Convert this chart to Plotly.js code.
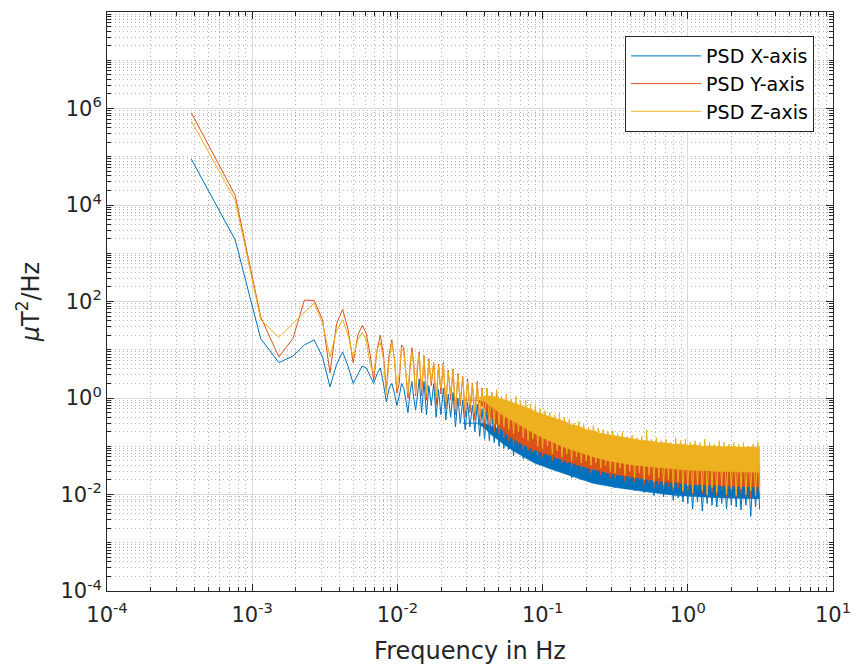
<!DOCTYPE html>
<html><head><meta charset="utf-8">
<script src="https://cdn.plot.ly/plotly-3.0.1.min.js"></script>
<style>html,body{margin:0;padding:0;background:#fff;}#chart{width:854px;height:668px;}</style>
</head><body><div id="chart"></div>
<script>
// Frequencies (Hz): first the resolved low-frequency bins, then the dense band
const freq = [
0.000381,0.000763,0.001144,0.001526,0.001907,0.002289,0.002670,0.003052,0.003433,0.003815,
0.004196,0.004578,0.004959,0.005341,0.005722,0.006104,0.006485,0.006867,0.007248,0.007630,
0.008011,0.008392,0.008774,0.009155,0.009537,0.009918,0.010300,0.010681,0.011063,0.011444,
0.011826,0.012207,0.012589,0.012970,0.013351,0.013733,
0.01413,0.01468,0.01525,0.01585,0.01647,0.01711,0.01778,0.01848,0.01920,0.01995,
0.02073,0.02154,0.02239,0.02326,0.02417,0.02512,0.02610,0.02712,0.02818,0.02929,
0.03043,0.03162,0.03286,0.03415,0.03548,0.03687,0.03831,0.03981,0.04137,0.04299,
0.04467,0.04642,0.04823,0.05012,0.05208,0.05412,0.05623,0.05843,0.06072,0.06310,
0.06557,0.06813,0.07079,0.07356,0.07644,0.07943,0.08254,0.08577,0.08913,0.09261,
0.09624,
0.1000,0.1039,0.1080,0.1122,0.1166,0.1212,0.1259,0.1308,0.1359,0.1413,
0.1468,0.1525,0.1585,0.1647,0.1711,0.1778,0.1848,0.1920,0.1995,0.2073,
0.2154,0.2239,0.2326,0.2417,0.2512,0.2610,0.2712,0.2818,0.2929,0.3043,
0.3162,0.3286,0.3415,0.3548,0.3687,0.3831,0.3981,0.4137,0.4299,0.4467,
0.4642,0.4823,0.5012,0.5208,0.5412,0.5623,0.5843,0.6072,0.6310,0.6557,
0.6813,0.7079,0.7356,0.7644,0.7943,0.8254,0.8577,0.8913,0.9261,0.9624,
1.000,1.039,1.080,1.122,1.166,1.212,1.259,1.308,1.359,1.413,
1.468,1.525,1.585,1.647,1.711,1.778,1.848,1.920,1.995,2.073,
2.154,2.239,2.326,2.417,2.512,2.610,2.712,2.818,2.929,3.043,
3.125
];

// PSD X-axis (uT^2/Hz)
const psdX = [
8.9e4,1.9e3,17,5.4,7.4,12.6,16,7,1.7,5,
9,4.5,2,3.2,4.6,4.2,2.8,2,3.2,4.2,
2,0.83,1.6,2,1.26,0.7,1.1,2,1.6,0.8,
0.5,1.26,2.2,1,0.56,1.1,
2.5,0.5,2.2,0.45,1.8,0.7,2.0,0.4,1.5,0.45,
1.6,0.35,1.2,0.4,1.3,0.25,1.0,0.3,0.9,0.22,
0.8,0.25,0.7,0.2,0.75,0.16,0.6,0.14,0.55,0.13,
0.5,0.12,0.48,0.1,0.4,0.09,0.38,0.085,0.3,0.063,
0.32,0.07,0.28,0.055,0.26,0.06,0.22,0.05,0.21,0.045,
0.19,0.04,0.18,0.042,0.16,0.034,0.15,0.036,0.14,0.03,
0.12,0.028,0.12,0.022,0.1,0.025,0.1,0.02,0.09,0.022,
0.085,0.018,0.08,0.02,0.075,0.016,0.07,0.018,0.065,0.015,
0.06,0.014,0.058,0.016,0.055,0.013,0.052,0.014,0.05,0.012,
0.048,0.013,0.047,0.011,0.045,0.012,0.043,0.0095,0.042,0.011,
0.04,0.009,0.038,0.01,0.036,0.0075,0.036,0.0085,0.034,0.007,
0.033,0.0065,0.032,0.005,0.03,0.007,0.031,0.0045,0.03,0.0065,
0.029,0.006,0.03,0.0055,0.028,0.0065,0.028,0.005,0.027,0.006,
0.028,0.0055,0.027,0.0048,0.028,0.006,0.027,0.0035,0.026,0.0055,
0.027,0.005
];

// PSD Y-axis
const psdY = [
8.1e5,1.6e4,48,7.1,17,107,105,42,3.3,35,
69,26,5.4,20,32,22,8,2.3,10,20,
8,1.5,8,16,6.3,1.26,2.0,12.6,11,3.5,
1.0,4,11,5,1.1,4,
9,1.1,7.5,0.9,6.5,1.8,5.5,0.7,5,1.2,
5.5,0.6,3.8,0.9,4,0.45,3.2,0.7,2.8,0.4,
2.5,0.5,2.0,0.35,2.2,0.3,1.6,0.25,1.6,0.22,
1.3,0.2,1.3,0.18,0.95,0.15,0.9,0.13,0.7,0.1,
0.75,0.11,0.6,0.085,0.6,0.08,0.5,0.075,0.45,0.065,
0.4,0.06,0.38,0.065,0.33,0.05,0.3,0.055,0.28,0.045,
0.25,0.045,0.22,0.035,0.2,0.04,0.2,0.032,0.17,0.035,
0.16,0.028,0.15,0.032,0.14,0.025,0.13,0.028,0.12,0.022,
0.11,0.022,0.1,0.025,0.11,0.019,0.095,0.021,0.09,0.018,
0.085,0.02,0.09,0.016,0.08,0.018,0.075,0.014,0.08,0.016,
0.07,0.013,0.075,0.015,0.065,0.012,0.07,0.014,0.06,0.011,
0.065,0.012,0.058,0.01,0.06,0.013,0.055,0.0105,0.06,0.0095,
0.055,0.011,0.05,0.0095,0.058,0.012,0.05,0.009,0.052,0.011,
0.05,0.0088,0.055,0.0105,0.05,0.009,0.048,0.0085,0.05,0.0095,
0.052,0.0085
];

// PSD Z-axis
const psdZ = [
5.5e5,1.26e4,42,18,35,60,93,35,7.1,25,
42,20,7,16,23,16,5,3.3,10,14,
6.3,1.15,6.3,14,6.3,1.6,3.2,11,9,3.2,
1.26,5,9,4,1.26,5,
8,1.5,7,1.2,6,2.2,5.5,1.0,4.5,1.6,
5,0.8,3.5,1.2,3.8,0.6,3,0.9,2.8,0.55,
2.2,0.7,1.9,0.5,2.0,0.45,1.5,0.4,1.6,0.35,
1.3,0.3,1.5,0.28,1.1,0.25,1.2,0.22,0.95,0.18,
1.1,0.2,0.85,0.15,0.9,0.13,0.75,0.14,0.7,0.1,
0.6,0.09,0.55,0.1,0.5,0.07,0.45,0.08,0.48,0.06,
0.4,0.07,0.36,0.05,0.3,0.06,0.33,0.045,0.28,0.05,
0.25,0.04,0.27,0.045,0.24,0.035,0.22,0.04,0.2,0.03,
0.21,0.028,0.18,0.035,0.2,0.025,0.16,0.03,0.17,0.022,
0.15,0.028,0.16,0.02,0.22,0.025,0.14,0.018,0.15,0.022,
0.13,0.016,0.14,0.02,0.12,0.014,0.15,0.018,0.13,0.012,
0.14,0.015,0.12,0.011,0.13,0.016,0.12,0.012,0.14,0.01,
0.12,0.014,0.11,0.011,0.13,0.015,0.12,0.01,0.11,0.013,
0.12,0.0095,0.11,0.013,0.12,0.01,0.1,0.012,0.11,0.0095,
0.12,0.011
];

// Dense-core extent of each noisy band (where the trace fills the band solidly)
const bandFreq = [
0.02818,0.03162,0.03548,0.03981,0.04467,0.05012,0.05623,0.06310,0.07079,0.07943,
0.08913,0.1000,0.1122,0.1259,0.1413,0.1585,0.1778,0.1995,0.2239,0.2512,
0.2818,0.3162,0.3548,0.3981,0.4467,0.5012,0.5623,0.6310,0.7079,0.7943,
0.8913,1.000,1.122,1.259,1.413,1.585,1.778,1.995,2.239,2.512,
2.818,3.125
];
const coreXHigh = [
0.3,0.3,0.3,0.3,0.26,0.23,0.2,0.18,0.16,0.14,
0.125,0.11,0.1,0.09,0.08,0.072,0.065,0.058,0.053,0.049,
0.045,0.042,0.039,0.037,0.035,0.033,0.032,0.031,0.03,0.029,
0.028,0.027,0.027,0.026,0.026,0.025,0.025,0.025,0.024,0.024,
0.024,0.024
];
const coreXLow = [
0.3,0.3,0.3,0.24,0.17,0.13,0.1,0.08,0.064,0.053,
0.044,0.039,0.034,0.03,0.027,0.024,0.021,0.019,0.017,0.016,
0.015,0.014,0.013,0.0125,0.012,0.0115,0.011,0.0105,0.01,0.0097,
0.0094,0.0092,0.009,0.0088,0.0087,0.0086,0.0085,0.0084,0.0083,0.0083,
0.0082,0.0082
];
const coreYHigh = [
0.9,0.9,0.9,0.85,0.75,0.62,0.5,0.42,0.36,0.31,
0.27,0.24,0.21,0.19,0.17,0.15,0.135,0.12,0.11,0.1,
0.092,0.085,0.08,0.075,0.07,0.066,0.062,0.06,0.057,0.055,
0.052,0.05,0.048,0.047,0.046,0.045,0.044,0.043,0.042,0.042,
0.041,0.041
];
const coreYLow = [
0.9,0.9,0.9,0.6,0.38,0.25,0.18,0.14,0.115,0.095,
0.082,0.073,0.064,0.057,0.05,0.045,0.04,0.036,0.033,0.03,
0.028,0.026,0.024,0.023,0.022,0.021,0.02,0.019,0.018,0.0175,
0.017,0.0165,0.016,0.016,0.0155,0.0155,0.015,0.015,0.015,0.0145,
0.0145,0.0145
];
const coreZHigh = [
1.0,1.0,1.0,1.1,1.1,1.0,0.9,0.8,0.7,0.62,
0.52,0.46,0.42,0.36,0.33,0.28,0.26,0.22,0.21,0.185,
0.175,0.16,0.155,0.145,0.14,0.13,0.128,0.12,0.118,0.11,
0.112,0.105,0.107,0.1,0.102,0.1,0.098,0.1,0.095,0.097,
0.095,0.095
];
const coreZLow = [
1.0,1.0,1.0,0.85,0.65,0.5,0.4,0.32,0.26,0.22,
0.18,0.15,0.13,0.11,0.095,0.085,0.075,0.068,0.06,0.055,
0.05,0.047,0.044,0.042,0.04,0.038,0.037,0.036,0.035,0.034,
0.033,0.032,0.032,0.031,0.031,0.03,0.03,0.03,0.029,0.029,
0.029,0.029
];

const seriesNames = ['PSD X-axis', 'PSD Y-axis', 'PSD Z-axis'];
const seriesColors = ['#0072BD', '#D95319', '#EDB120'];
const xTickVals = [1e-4, 1e-3, 1e-2, 1e-1, 1, 10];
const xTickText = ['10<sup>-4</sup>', '10<sup>-3</sup>', '10<sup>-2</sup>', '10<sup>-1</sup>', '10<sup>0</sup>', '10<sup>1</sup>'];
const yTickVals = [1e-4, 1e-2, 1, 1e2, 1e4, 1e6, 1e8];
const yTickText = ['10<sup>-4</sup>', '10<sup>-2</sup>', '10<sup>0</sup>', '10<sup>2</sup>', '10<sup>4</sup>', '10<sup>6</sup>', '10<sup>8</sup>'];

function minorVals(n0, n1, skipMajor) {
  const out = [];
  for (let n = n0; n < n1; n++) {
    for (let m = 1; m <= 9; m++) {
      if (m === 1 && skipMajor(n)) continue;
      out.push(m * Math.pow(10, n));
    }
  }
  return out;
}
const xMinor = minorVals(-4, 1, n => true);
const yMinor = minorVals(-4, 8, n => (n % 2 === 0));

const series = [psdX, psdY, psdZ];
const coreHigh = [coreXHigh, coreYHigh, coreZHigh];
const coreLow = [coreXLow, coreYLow, coreZLow];
const traces = [];
series.forEach((vals, i) => {
  traces.push({
    x: bandFreq.concat(bandFreq.slice().reverse()),
    y: coreHigh[i].concat(coreLow[i].slice().reverse()),
    type: 'scatter', mode: 'lines', fill: 'toself', fillcolor: seriesColors[i],
    line: {color: seriesColors[i], width: 0.5},
    showlegend: false, hoverinfo: 'skip'
  });
  traces.push({
    x: freq, y: vals, type: 'scatter', mode: 'lines', name: seriesNames[i],
    line: {color: seriesColors[i], width: 1}
  });
});

const fontFam = 'DejaVu Sans, sans-serif';
const axisCommon = {
  type: 'log', showline: true, linecolor: '#262626', linewidth: 1, mirror: 'ticks',
  ticks: 'inside', ticklen: 7, tickcolor: '#262626', tickmode: 'array',
  showgrid: true, gridcolor: '#dcdcdc', gridwidth: 1, zeroline: false,
  tickfont: {family: fontFam, size: 21, color: '#262626'}
};
const minorCommon = {
  tickmode: 'array', ticks: 'inside', ticklen: 4, tickcolor: '#262626',
  showgrid: true, gridcolor: '#b5b5b5', griddash: '1px,3px', gridwidth: 1
};

const layout = {
  width: 854, height: 668,
  margin: {l: 107, r: 21, t: 12, b: 77},
  paper_bgcolor: '#ffffff', plot_bgcolor: '#ffffff',
  showlegend: true,
  xaxis: Object.assign({}, axisCommon, {
    range: [-4, 1], tickvals: xTickVals, ticktext: xTickText, ticklabelstandoff: 5,
    minor: Object.assign({}, minorCommon, {tickvals: xMinor}),
    title: {text: 'Frequency in Hz', standoff: 15, font: {family: fontFam, size: 24, color: '#262626'}}
  }),
  yaxis: Object.assign({}, axisCommon, {
    range: [-4, 8], tickvals: yTickVals, ticktext: yTickText,
    minor: Object.assign({}, minorCommon, {tickvals: yMinor}),
    title: {text: '<i>μ</i>T<sup>2</sup>/Hz', standoff: 14, font: {family: fontFam, size: 24, color: '#262626'}}
  }),
  legend: {
    x: 0.974, xanchor: 'right', y: 0.9585, yanchor: 'top',
    bgcolor: '#ffffff', bordercolor: '#262626', borderwidth: 1,
    font: {family: fontFam, size: 19, color: '#000000'},
    itemwidth: 70, tracegroupgap: 0
  }
};

Plotly.newPlot('chart', traces, layout, {displayModeBar: false, staticPlot: true});
</script>
</body></html>
